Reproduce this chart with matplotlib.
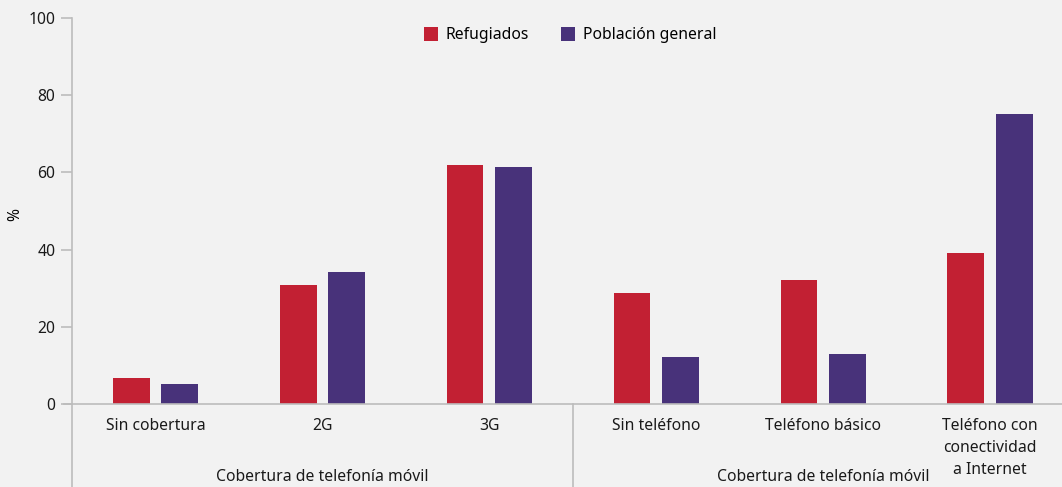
import matplotlib.pyplot as plt
import numpy as np

plt.rcParams['font.family'] = ['Noto Sans', 'DejaVu Sans']

categories = ['Sin cobertura', '2G', '3G', 'Sin teléfono', 'Teléfono básico',
              'Teléfono con\nconectividad\na Internet']
refugiados = [6.7, 30.8, 62.0, 28.8, 32.2, 39.2]
poblacion = [5.2, 34.3, 61.3, 12.2, 13.0, 75.2]
group_labels = ['Cobertura de telefonía móvil', 'Cobertura de telefonía móvil']

bg = '#f2f2f2'
red = '#c22033'
purple = '#48327a'
grey = '#bcbcbc'

fig = plt.figure(figsize=(10.62, 4.87), dpi=100, facecolor=bg)
ax = fig.add_axes([72/1062, 83/487, 990/1062, 386/487], facecolor=bg)

x = np.arange(len(categories))
w = 0.22
ax.bar(x - 0.145, refugiados, width=w, color=red, label='Refugiados')
ax.bar(x + 0.145, poblacion, width=w, color=purple, label='Población general')

ax.set_xlim(-0.5, (1062 - 155) / 167)
ax.set_ylim(0, 100)
ax.set_yticks([0, 20, 40, 60, 80, 100])
ax.set_xticks(x)
ax.set_xticklabels(categories, fontsize=11.3, color='#1a1a1a', linespacing=1.5)
ax.tick_params(axis='x', length=0, pad=10)
ax.tick_params(axis='y', length=8, color=grey, width=1.2, labelsize=11.3, labelcolor='#1a1a1a', pad=4)
ax.set_ylabel('%', fontsize=11.3)
ax.yaxis.set_label_coords((23 - 72) / 990, 0.49)

for s in ['top', 'right']:
    ax.spines[s].set_visible(False)
for s in ['left', 'bottom']:
    ax.spines[s].set_color(grey)
    ax.spines[s].set_linewidth(1.2)

# baseline extends left past the y axis, separators run down below
ax.plot([-0.5 - 8/167, -0.5], [0, 0], color=grey, lw=1.2, clip_on=False)
ybot = -(487 - 404) / 3.86
ax.plot([-0.5, -0.5], [0, ybot], color=grey, lw=1.2, clip_on=False)
ax.plot([2.5, 2.5], [0, ybot], color=grey, lw=1.2, clip_on=False)

for gx, lab in zip([1, 4], group_labels):
    ax.text(gx, -(477 - 404) / 3.86, lab, ha='center', va='center', fontsize=11.3,
            color='#1a1a1a', clip_on=False)

ax.legend(loc='upper center', bbox_to_anchor=((570 - 72) / 990, 1.0), ncol=2, frameon=False,
          fontsize=11.3, handlelength=0.9, handleheight=0.9, columnspacing=2.0, handletextpad=0.5,
          borderaxespad=0.2)

fig.savefig('out.png', dpi=100, facecolor=bg)
